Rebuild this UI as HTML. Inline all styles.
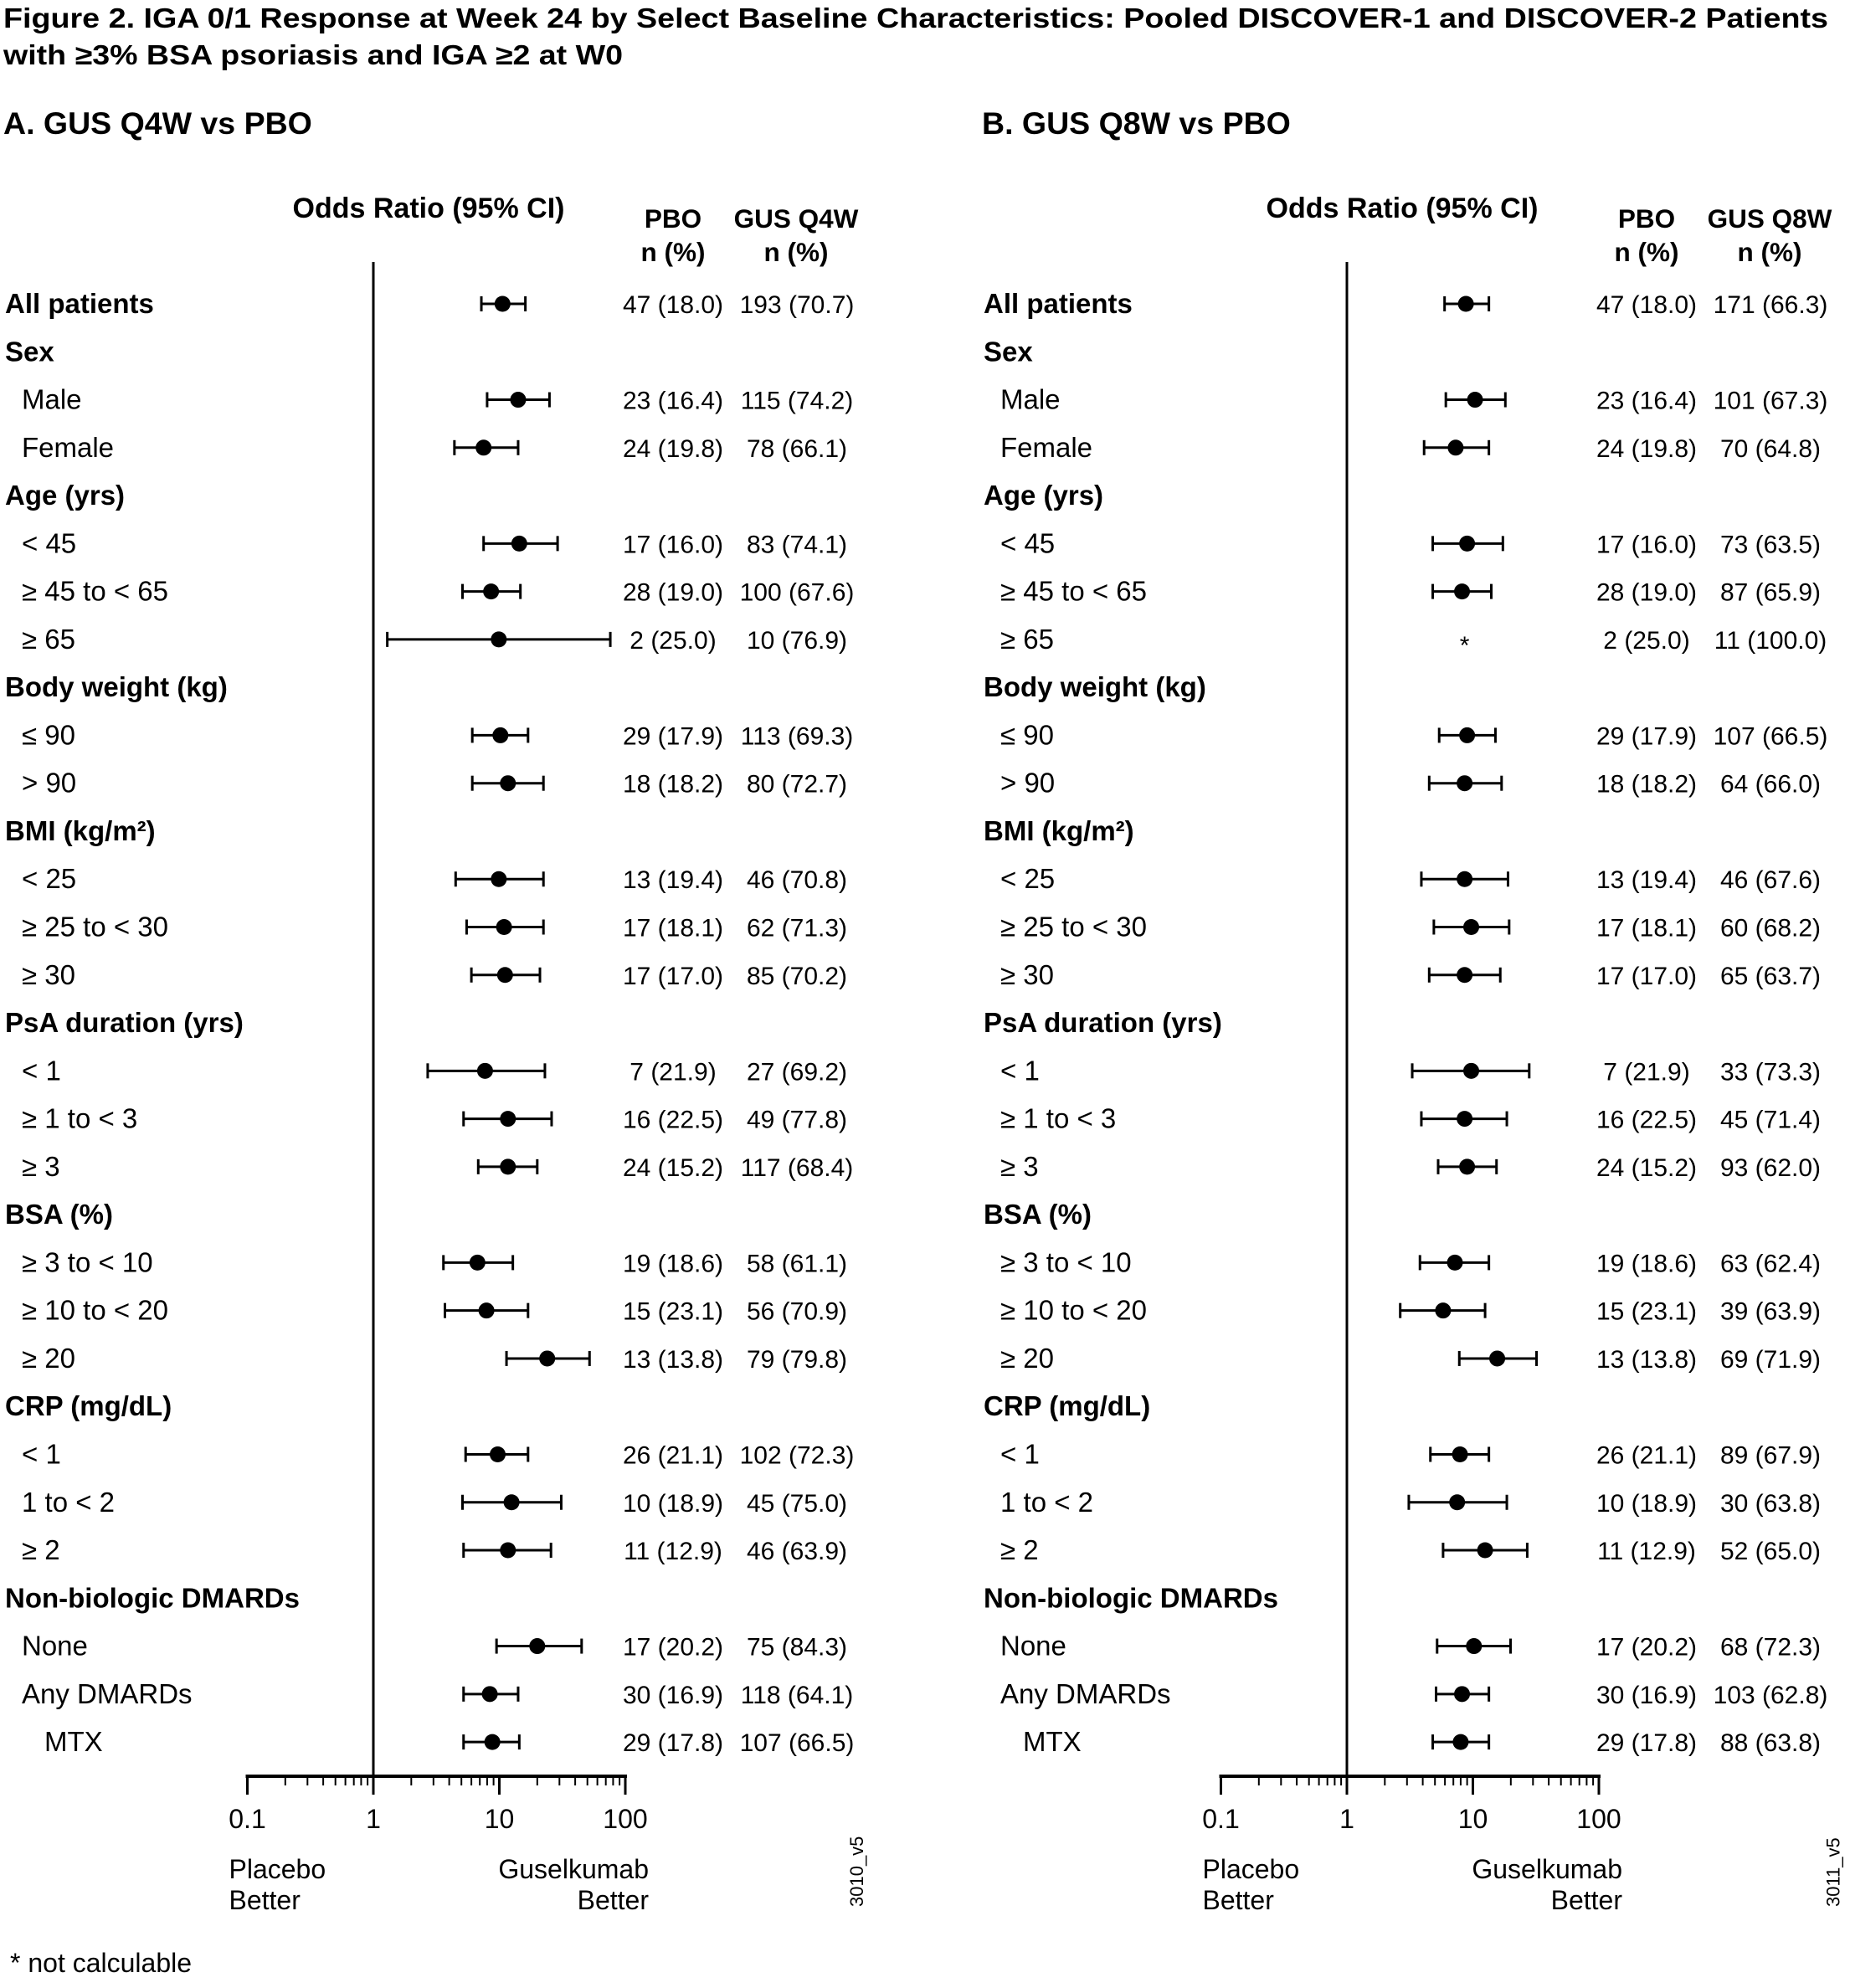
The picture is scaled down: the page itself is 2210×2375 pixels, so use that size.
<!DOCTYPE html>
<html><head><meta charset="utf-8">
<style>
html,body{margin:0;padding:0;background:#fff;}
svg{display:block;font-family:"Liberation Sans",Arial,sans-serif;}
</style></head>
<body>
<svg id="fig" width="2210" height="2375" viewBox="0 0 2210 2375" xmlns="http://www.w3.org/2000/svg">
<text x="4" y="33" font-size="33" font-weight="bold" textLength="2180" lengthAdjust="spacingAndGlyphs">Figure 2. IGA 0/1 Response at Week 24 by Select Baseline Characteristics: Pooled DISCOVER-1 and DISCOVER-2 Patients</text>
<text x="4" y="77" font-size="33" font-weight="bold" textLength="740" lengthAdjust="spacingAndGlyphs">with ≥3% BSA psoriasis and IGA ≥2 at W0</text>
<text x="12" y="2356" font-size="32">* not calculable</text>
</svg>
<script>
const labels = ["All patients","Sex","Male","Female","Age (yrs)","< 45","≥ 45 to < 65","≥ 65","Body weight (kg)","≤ 90","> 90","BMI (kg/m²)","< 25","≥ 25 to < 30","≥ 30","PsA duration (yrs)","< 1","≥ 1 to < 3","≥ 3","BSA (%)","≥ 3 to < 10","≥ 10 to < 20","≥ 20","CRP (mg/dL)","< 1","1 to < 2","≥ 2","Non-biologic DMARDs","None","Any DMARDs","MTX"];
const levels = [0,0,1,1,0,1,1,1,0,1,1,0,1,1,1,0,1,1,1,0,1,1,1,0,1,1,1,0,1,1,2];
const pboA = ["47 (18.0)","","23 (16.4)","24 (19.8)","","17 (16.0)","28 (19.0)","2 (25.0)","","29 (17.9)","18 (18.2)","","13 (19.4)","17 (18.1)","17 (17.0)","","7 (21.9)","16 (22.5)","24 (15.2)","","19 (18.6)","15 (23.1)","13 (13.8)","","26 (21.1)","10 (18.9)","11 (12.9)","","17 (20.2)","30 (16.9)","29 (17.8)"];
const gusA = ["193 (70.7)","","115 (74.2)","78 (66.1)","","83 (74.1)","100 (67.6)","10 (76.9)","","113 (69.3)","80 (72.7)","","46 (70.8)","62 (71.3)","85 (70.2)","","27 (69.2)","49 (77.8)","117 (68.4)","","58 (61.1)","56 (70.9)","79 (79.8)","","102 (72.3)","45 (75.0)","46 (63.9)","","75 (84.3)","118 (64.1)","107 (66.5)"];
const gusB = ["171 (66.3)","","101 (67.3)","70 (64.8)","","73 (63.5)","87 (65.9)","11 (100.0)","","107 (66.5)","64 (66.0)","","46 (67.6)","60 (68.2)","65 (63.7)","","33 (73.3)","45 (71.4)","93 (62.0)","","63 (62.4)","39 (63.9)","69 (71.9)","","89 (67.9)","30 (63.8)","52 (65.0)","","68 (72.3)","103 (62.8)","88 (63.8)"];
// odds ratios (null = no estimate row; "NC" = not calculable)
const orA = [10.6,null,14.1,7.5,null,14.4,8.6,9.9,null,10.2,11.7,null,9.9,10.9,11.1,null,7.7,11.7,11.7,null,6.7,7.9,24,null,9.7,12.5,11.7,null,20,8.4,8.8];
const loA = [7.2,null,8.0,4.4,null,7.5,5.1,1.29,null,6.1,6.1,null,4.5,5.5,6.0,null,2.7,5.2,6.8,null,3.6,3.7,11.4,null,5.4,5.1,5.2,null,9.5,5.2,5.2];
const hiA = [16.1,null,25,14.1,null,29,14.7,76,null,16.9,22.4,null,22.4,22.4,21,null,23,26,20,null,12.8,16.9,52,null,16.9,31,25.7,null,45,14.1,14.4];
const orB = [8.8,null,10.4,7.3,null,9.0,8.2,"NC",null,9.0,8.6,null,8.6,9.7,8.6,null,9.7,8.6,9.0,null,7.2,5.8,15.6,null,7.9,7.5,12.5,null,10.2,8.2,8.0];
const loB = [5.96,null,6.1,4.1,null,4.8,4.8,null,null,5.4,4.5,null,3.9,4.9,4.5,null,3.3,3.9,5.3,null,3.8,2.65,7.8,null,4.6,3.1,5.8,null,5.2,5.1,4.8];
const hiB = [13.4,null,18.1,13.4,null,17.3,14.0,null,null,15.1,16.9,null,19,19.4,16.5,null,28,18.6,15.4,null,13.4,12.5,32,null,13.4,18.6,27,null,19.9,13.4,13.4];
const tickVals = [0.1,1,10,100];
const tickLabels = ["0.1","1","10","100"];

const NS="http://www.w3.org/2000/svg";
const svg=document.getElementById('fig');
function mk(tag,attrs,txt){const e=document.createElementNS(NS,tag);for(const k in attrs)e.setAttribute(k,attrs[k]);if(txt!==undefined)e.textContent=txt;svg.appendChild(e);return e;}
const rowY=i=>363+57.27*i;
const DEC=150.5;
function panel(off,loff,title,armName,orArr,loArr,hiArr,gusArr,code,key){
  const x0=295.5+off;
  const xs=v=>x0+(Math.log10(v)+1)*DEC;
  let t;
  t=mk('text',{x:4+loff,y:160,'font-size':37.5,'font-weight':'bold'},title);
  
  
  t=mk('text',{x:512+off,y:260,'font-size':34,'font-weight':'bold','text-anchor':'middle'},'Odds Ratio (95% CI)');
  
  
  [['PBO',804],[armName,951]].forEach((h,j)=>{
    let a=mk('text',{x:h[1]+off,y:272,'font-size':31.5,'font-weight':'bold','text-anchor':'middle'},h[0]);
    
    
    let b=mk('text',{x:h[1]+off,y:312,'font-size':31.5,'font-weight':'bold','text-anchor':'middle'},'n (%)');
    
    
  });
  let l=mk('line',{x1:xs(1),x2:xs(1),y1:313,y2:2122,stroke:'#000','stroke-width':3});
  
  
  l=mk('line',{x1:xs(0.1)-2,x2:xs(100)+2,y1:2122,y2:2122,stroke:'#000','stroke-width':4});
  
  
  for(let d=-1;d<2;d++){for(let m=2;m<10;m++){
    const v=m*Math.pow(10,d);
    const tk=mk('line',{x1:xs(v),x2:xs(v),y1:2122,y2:2133,stroke:'#000','stroke-width':2});
    
    
  }}
  tickVals.forEach((v,j)=>{
    const tk=mk('line',{x1:xs(v),x2:xs(v),y1:2122,y2:2144,stroke:'#000','stroke-width':3});
    
    
    const tl=mk('text',{x:xs(v),y:2184,'font-size':32,'text-anchor':'middle'},tickLabels[j]);
    
    
  });
  [['Placebo',274,'start',xs(0.1)-22],['Better',311,'start',xs(0.1)-22],['Guselkumab',274,'end',xs(100)+28],['Better',311,'end',xs(100)+28]].forEach((a,j)=>{
    const tt=mk('text',{x:a[3],y:2180+a[1]-210,'font-size':32,'text-anchor':a[2]},a[0]);
    
    
  });
  const c=mk('text',{x:0,y:0,'font-size':22,transform:`translate(${1031+off*1.003},2278) rotate(-90)`},code);
  
  
  labels.forEach((lab,i)=>{
    const y=rowY(i);
    const lx=(levels[i]===0?6:levels[i]===1?26:53)+loff;
    const lt=mk('text',{x:lx,y:y+11,'font-size':33,'font-weight':levels[i]===0?'bold':'normal'},lab);
    
    
    if(pboA[i]){
      const p=mk('text',{x:804+off,y:y+11,'font-size':30,'text-anchor':'middle'},pboA[i]);
      
      
      const g=mk('text',{x:952+off,y:y+11,'font-size':30,'text-anchor':'middle'},gusArr[i]);
      
      
    }
    const o=orArr[i];
    if(o==='NC'){
      const s=mk('text',{x:xs(8.6),y:y+17,'font-size':30,'text-anchor':'middle'},'*');
      
      
    } else if(o!==null){
      const ci=mk('line',{x1:xs(loArr[i]),x2:xs(hiArr[i]),y1:y,y2:y,stroke:'#000','stroke-width':3});
      
      
      [loArr[i],hiArr[i]].forEach(v=>{
        const cp=mk('line',{x1:xs(v),x2:xs(v),y1:y-9,y2:y+9,stroke:'#000','stroke-width':3});
        
        
      });
      const dot=mk('circle',{cx:xs(o),cy:y,r:9.5,fill:'#000'});
      
      
    }
  });
}
panel(0,0,'A. GUS Q4W vs PBO','GUS Q4W',orA,loA,hiA,gusA,'3010_v5','a');
panel(1163,1169,'B. GUS Q8W vs PBO','GUS Q8W',orB,loB,hiB,gusB,'3011_v5','b');
</script>
</body></html>
